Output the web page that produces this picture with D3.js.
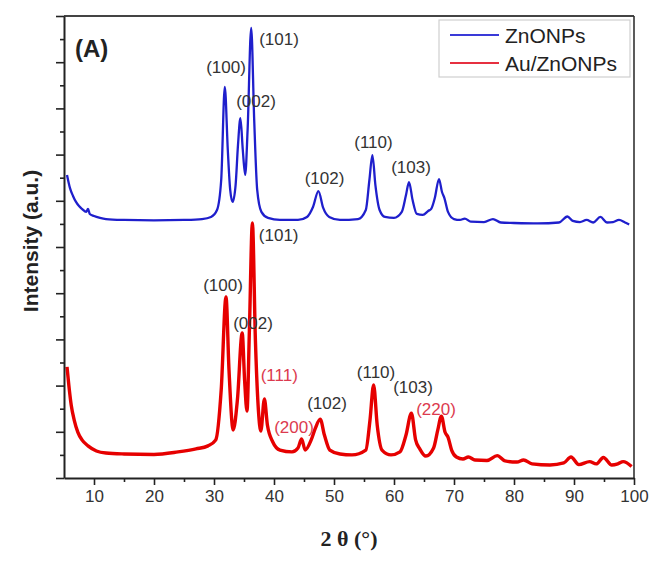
<!DOCTYPE html>
<html>
<head>
<meta charset="utf-8">
<script src="https://cdn.jsdelivr.net/npm/d3@7"></script>
<style>
  html, body { margin: 0; padding: 0; background: #fff; }
  svg { display: block; }
  text { font-family: "Liberation Sans", Arial, sans-serif; }
</style>
</head>
<body>
<svg id="chart" width="663" height="572"></svg>
<script>
// ---- Data (2θ in degrees, intensity in arbitrary units) ----
const seriesNames = ["ZnONPs", "Au/ZnONPs"];

const znoTheta = [5.5,6,6.5,7,7.5,8,8.7,9.0,9.3,10,11,12,15,20,25,28,29.5,30.5,31.2,31.8,32.3,32.7,33.1,33.6,34.0,34.4,34.8,35.2,35.6,36.2,36.7,37.2,37.9,39,41,44,45.5,46.5,47.4,48.2,49.2,51,54,55.3,55.9,56.4,56.9,57.6,58.5,60,61.3,62.0,62.5,63.1,63.8,64.8,65.7,66.2,66.8,67.5,68.0,68.4,69.0,70.0,71.0,71.8,72.8,75,76.5,77.8,80,84,87.5,88.9,89.8,91,92.1,93.2,94.4,95.5,96.5,97.5,98.5,99.2];
const znoIntensity = [13.12,12.55,12.21,11.95,11.77,11.65,11.52,11.65,11.43,11.34,11.26,11.21,11.17,11.15,11.17,11.21,11.30,11.60,12.90,16.93,14.20,12.47,11.95,12.68,14.42,15.58,14.20,13.12,15.06,19.48,15.50,12.47,11.52,11.26,11.17,11.17,11.30,11.73,12.42,11.69,11.30,11.17,11.21,11.60,12.90,13.98,12.68,11.60,11.30,11.26,11.52,12.25,12.81,12.03,11.43,11.39,11.56,11.65,12.12,12.94,12.38,12.12,11.52,11.21,11.17,11.23,11.10,11.08,11.21,11.06,11.04,11.02,11.06,11.32,11.13,11.08,11.17,11.06,11.30,11.06,11.08,11.17,11.06,10.97];

const auTheta = [5.5,5.8,6.2,6.7,7.3,8,9,10.4,12,15,20,24,27,29,30.3,31.2,32.0,32.5,33.2,33.9,34.7,35.1,35.5,35.9,36.4,36.9,37.4,37.8,38.4,38.9,39.8,41,43,44.0,44.6,45.2,46.2,46.9,47.7,48.4,49.3,51,53,55.3,56.0,56.6,57.2,58.0,59.5,61.0,62.0,62.9,63.6,64.3,65.3,66.6,67.3,67.9,68.5,69.0,69.6,70.4,71.5,72.4,73.5,75.5,77.2,78.5,80.5,81.6,83,86,88.3,89.5,90.8,92.6,93.7,94.9,96.3,97.3,98.2,99.6];
const auIntensity = [4.81,4.03,3.16,2.51,1.99,1.65,1.39,1.17,1.08,1.04,1.02,1.13,1.26,1.39,1.65,3.81,7.84,4.68,2.08,3.38,6.28,4.24,2.90,6.41,11.04,5.97,2.94,2.03,3.42,2.29,1.56,1.21,1.13,1.30,1.69,1.21,1.65,2.16,2.55,1.86,1.21,1.04,1.00,1.21,2.51,4.03,2.29,1.21,1.00,1.13,1.86,2.81,1.65,1.26,0.95,1.30,2.08,2.68,1.99,1.77,1.21,0.91,0.82,0.91,0.78,0.76,0.97,0.74,0.69,0.78,0.61,0.56,0.65,0.91,0.58,0.71,0.61,0.89,0.56,0.61,0.71,0.50];

// Peak annotations: [label, 2θ, intensity level]
const znoLabels = [["(100)",32.0,17.55],["(002)",37.0,16.06],["(101)",40.83,18.74],["(102)",48.42,12.73],["(110)",56.58,14.29],["(103)",62.83,13.20]];
const auLabelsZnO = [["(100)",31.5,8.10],["(002)",36.5,6.45],["(101)",40.78,10.26],["(102)",48.83,2.97],["(110)",57.0,4.33],["(103)",63.17,3.66]];
const auLabelsAu = [["(111)",40.88,4.20],["(200)",43.33,1.95],["(220)",67.0,2.71]];

const xTicks = [10,20,30,40,50,60,70,80,90,100];
const xMinorTicks = [15,25,35,45,55,65,75,85,95];
const yMajorTicks = [0,2,4,6,8,10,12,14,16,18,20];
const yMinorTicks = [1,3,5,7,9,11,13,15,17,19];

// ---- Layout ----
const svg = d3.select("#chart");
const mLeft = 64, mRight = 634, mTop = 16, mBottom = 478;
const x = d3.scaleLinear().domain([5, 100]).range([mLeft, mRight]);
const y = d3.scaleLinear().domain([0, 20]).range([mBottom, mTop]);

svg.append("rect").attr("width", 663).attr("height", 572).attr("fill", "#fff");

// frame (top & right)
svg.append("line").attr("x1", mLeft).attr("x2", mRight).attr("y1", mTop).attr("y2", mTop)
  .attr("stroke", "#444").attr("stroke-width", 2.2);
svg.append("line").attr("x1", mRight).attr("x2", mRight).attr("y1", mTop).attr("y2", mBottom)
  .attr("stroke", "#333").attr("stroke-width", 1.6);

// curves
const line = d3.line().x(d => x(d[0])).y(d => y(d[1])).curve(d3.curveMonotoneX);
const zno = znoTheta.map((t, i) => [t, znoIntensity[i]]);
const au = auTheta.map((t, i) => [t, auIntensity[i]]);

svg.append("path").datum(au).attr("d", line).attr("fill", "none")
  .attr("stroke", "#e60000").attr("stroke-width", 3.4).attr("stroke-linejoin", "round");
svg.append("path").datum(zno).attr("d", line).attr("fill", "none")
  .attr("stroke", "#1f1fcc").attr("stroke-width", 2.3).attr("stroke-linejoin", "round");

// axes
const xAxis = svg.append("g").attr("transform", `translate(0,${mBottom})`)
  .call(d3.axisBottom(x).tickValues(xTicks).tickSize(7).tickPadding(5).tickSizeOuter(0));
svg.append("g").attr("transform", `translate(0,${mBottom})`)
  .call(d3.axisBottom(x).tickValues(xMinorTicks).tickSize(4).tickFormat("").tickSizeOuter(0))
  .select(".domain").remove();
xAxis.select(".domain").attr("stroke", "#222").attr("stroke-width", 2);
xAxis.selectAll(".tick text").attr("font-size", 17).attr("fill", "#333")
  .attr("font-family", "'Liberation Sans', Arial, sans-serif");

const yAxis = svg.append("g").attr("transform", `translate(${mLeft},0)`)
  .call(d3.axisLeft(y).tickValues(yMajorTicks).tickSize(8).tickFormat("").tickSizeOuter(0));
svg.append("g").attr("transform", `translate(${mLeft},0)`)
  .call(d3.axisLeft(y).tickValues(yMinorTicks).tickSize(4).tickFormat("").tickSizeOuter(0))
  .select(".domain").remove();
yAxis.select(".domain").attr("stroke", "#222").attr("stroke-width", 2);
svg.selectAll(".tick line").attr("stroke", "#222").attr("stroke-width", 1.6);

// peak labels
function addLabels(arr, color) {
  svg.append("g").selectAll("text").data(arr).join("text")
    .attr("x", d => x(d[1])).attr("y", d => y(d[2]))
    .attr("text-anchor", "middle").attr("font-size", 17).attr("fill", color)
    .text(d => d[0]);
}
addLabels(znoLabels, "#333");
addLabels(auLabelsZnO, "#333");
addLabels(auLabelsAu, "#dc3a4e");

// panel tag
svg.append("text").attr("x", 75).attr("y", 57).attr("font-size", 24)
  .attr("font-weight", "bold").attr("fill", "#222").text("(A)");

// legend
const lg = svg.append("g");
lg.append("rect").attr("x", 439).attr("y", 20).attr("width", 191).attr("height", 57)
  .attr("fill", "#fff").attr("stroke", "#cfcfcf").attr("stroke-width", 1.2);
const legColors = ["#3a3ad8", "#e63040"];
seriesNames.forEach((name, i) => {
  const ly = 35 + i * 28;
  lg.append("line").attr("x1", 450).attr("x2", 499).attr("y1", ly).attr("y2", ly)
    .attr("stroke", legColors[i]).attr("stroke-width", 1.8);
  lg.append("text").attr("x", 505).attr("y", ly + 8).attr("font-size", 21)
    .attr("fill", "#222").text(name);
});

// axis titles
svg.append("text").attr("transform", "translate(38,241) rotate(-90)")
  .attr("text-anchor", "middle").attr("font-size", 21).attr("font-weight", "bold")
  .attr("fill", "#222").text("Intensity (a.u.)");
svg.append("text").attr("x", 349).attr("y", 546).attr("text-anchor", "middle")
  .attr("font-size", 22).attr("font-weight", "bold").attr("fill", "#222")
  .style("font-family", "'Liberation Serif', 'Times New Roman', serif")
  .text("2 θ (°)");
</script>
</body>
</html>
